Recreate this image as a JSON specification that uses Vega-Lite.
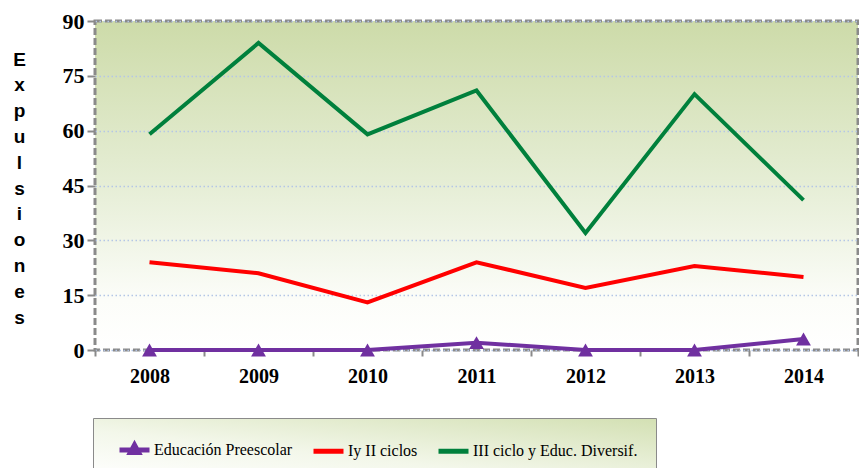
{
  "$schema": "https://vega.github.io/schema/vega-lite/v6.json",
  "width": 763,
  "height": 329,
  "autosize": {"type": "none"},
  "padding": {"left": 95, "top": 21, "right": 1, "bottom": 118},
  "background": "#ffffff",
  "config": {
    "view": {
      "fill": {"gradient": "linear", "x1": 0, "y1": 0, "x2": 0, "y2": 1,
        "stops": [
          {"offset": 0, "color": "#cddba9"},
          {"offset": 0.5, "color": "#e6eed6"},
          {"offset": 0.85, "color": "#fcfdf9"},
          {"offset": 1, "color": "#ffffff"}
        ]},
      "stroke": "#8a8a8a",
      "strokeWidth": 3,
      "strokeDash": [7, 3]
    }
  },
  "data": {
    "values": [
      {"year": "2008", "serie": "Educación Preescolar", "value": 0},
      {"year": "2009", "serie": "Educación Preescolar", "value": 0},
      {"year": "2010", "serie": "Educación Preescolar", "value": 0},
      {"year": "2011", "serie": "Educación Preescolar", "value": 2},
      {"year": "2012", "serie": "Educación Preescolar", "value": 0},
      {"year": "2013", "serie": "Educación Preescolar", "value": 0},
      {"year": "2014", "serie": "Educación Preescolar", "value": 3},
      {"year": "2008", "serie": "Iy II ciclos", "value": 24},
      {"year": "2009", "serie": "Iy II ciclos", "value": 21},
      {"year": "2010", "serie": "Iy II ciclos", "value": 13},
      {"year": "2011", "serie": "Iy II ciclos", "value": 24},
      {"year": "2012", "serie": "Iy II ciclos", "value": 17},
      {"year": "2013", "serie": "Iy II ciclos", "value": 23},
      {"year": "2014", "serie": "Iy II ciclos", "value": 20},
      {"year": "2008", "serie": "III ciclo y Educ.  Diversif.", "value": 59},
      {"year": "2009", "serie": "III ciclo y Educ.  Diversif.", "value": 84},
      {"year": "2010", "serie": "III ciclo y Educ.  Diversif.", "value": 59},
      {"year": "2011", "serie": "III ciclo y Educ.  Diversif.", "value": 71},
      {"year": "2012", "serie": "III ciclo y Educ.  Diversif.", "value": 32},
      {"year": "2013", "serie": "III ciclo y Educ.  Diversif.", "value": 70},
      {"year": "2014", "serie": "III ciclo y Educ.  Diversif.", "value": 41}
    ]
  },
  "encoding": {
    "x": {
      "field": "year", "type": "ordinal",
      "scale": {"type": "band", "paddingInner": 0, "paddingOuter": 0},
      "axis": {
        "title": null, "labelAngle": 0, "domain": false,
        "tickBand": "extent", "tickColor": "#8a8a8a", "tickWidth": 2, "tickSize": 6,
        "labelFont": "Liberation Serif", "labelFontWeight": "bold", "labelFontSize": 20,
        "labelColor": "#000000", "labelPadding": 10, "grid": false
      }
    },
    "y": {
      "field": "value", "type": "quantitative",
      "scale": {"domain": [0, 90], "nice": false},
      "axis": {
        "values": [0, 15, 30, 45, 60, 75, 90],
        "domain": false, "tickColor": "#8a8a8a", "tickWidth": 2, "tickSize": 8,
        "labelFont": "Liberation Serif", "labelFontWeight": "bold", "labelFontSize": 22,
        "labelColor": "#000000", "labelPadding": 3,
        "grid": true, "gridColor": "#b4c6e6", "gridDash": [1.5, 2.5], "gridWidth": 1.5,
        "title": ["E", "x", "p", "u", "l", "s", "i", "o", "n", "e", "s"],
        "titleAngle": 0, "titleX": -76, "titleY": 29, "titleBaseline": "top",
        "titleAlign": "center", "titleLineHeight": 25.8,
        "titleFont": "Liberation Sans", "titleFontWeight": "bold", "titleFontSize": 19,
        "titleColor": "#000000"
      }
    },
    "color": {
      "field": "serie", "type": "nominal",
      "scale": {
        "domain": ["Educación Preescolar", "Iy II ciclos", "III ciclo y Educ.  Diversif."],
        "range": ["#7030a0", "#ff0000", "#00803c"]
      }
    }
  },
  "layer": [
    {
      "mark": {"type": "line", "strokeWidth": 4},
      "encoding": {
        "color": {
          "field": "serie", "type": "nominal",
          "scale": {
            "domain": ["Educación Preescolar", "Iy II ciclos", "III ciclo y Educ.  Diversif."],
            "range": ["#7030a0", "#ff0000", "#00803c"]
          },
          "legend": {
            "title": null, "orient": "none", "direction": "horizontal",
            "legendX": -2, "legendY": 397,
            "padding": 14, "columnPadding": 8, "symbolOffset": 10,
            "symbolType": "stroke", "symbolSize": 900, "symbolStrokeWidth": 5,
            "labelFont": "Liberation Serif", "labelFontSize": 16, "labelColor": "#000000",
            "labelOffset": 2, "labelLimit": 400,
            "strokeColor": "#8a8a8a",
            "fillColor": "#eef3e2",
            "encode": {
              "legend": {
                "update": {
                  "fill": {"value": {"gradient": "linear", "x1": 1, "y1": 0, "x2": 0, "y2": 1,
                    "stops": [{"offset": 0, "color": "#d3e0b3"}, {"offset": 0.6, "color": "#f3f7ea"}, {"offset": 1, "color": "#ffffff"}]}}
                }
              },
              "symbols": {
                "update": {
                  "shape": [
                    {"test": "datum.value === 'Educación Preescolar'", "value": "M-1,0L1,0M-0.27,0.17L0,-0.33L0.27,0.17Z"},
                    {"value": "stroke"}
                  ]
                }
              }
            }
          }
        }
      }
    },
    {
      "transform": [{"filter": "datum.serie === 'Educación Preescolar'"}],
      "mark": {"type": "point", "shape": "triangle-up", "filled": true, "size": 220, "opacity": 1},
      "encoding": {
        "color": {"field": "serie", "type": "nominal", "legend": null}
      }
    }
  ]
}
